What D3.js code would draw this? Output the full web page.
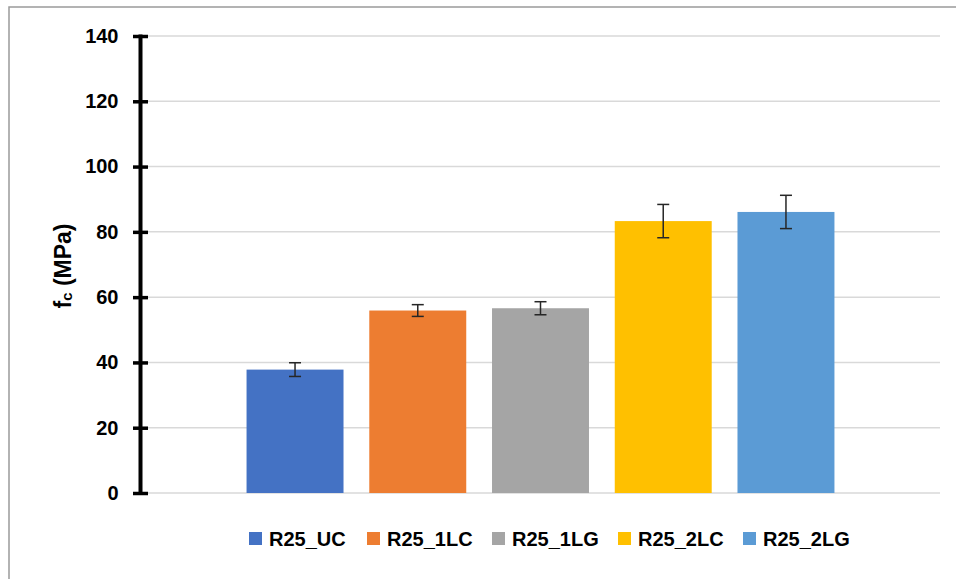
<!DOCTYPE html>
<html>
<head>
<meta charset="utf-8">
<script src="https://cdn.jsdelivr.net/npm/d3@7"></script>
<style>
  html, body { margin: 0; padding: 0; background: #fff; }
  svg { display: block; }
  text { font-family: "Liberation Sans", Arial, sans-serif; font-weight: bold; fill: #000; }
</style>
</head>
<body>
<svg id="chart" width="956" height="579"></svg>
<script>
// Compressive strength per specimen group
const categories = ["R25_UC", "R25_1LC", "R25_1LG", "R25_2LC", "R25_2LG"];
const meanValues = [37.8, 55.9, 56.6, 83.3, 86.1];
const errorValues = [2.1, 1.8, 2.0, 5.1, 5.1];
const barColors = ["#4472C4", "#ED7D31", "#A5A5A5", "#FFC000", "#5B9BD5"];
const yTicks = [0, 20, 40, 60, 80, 100, 120, 140];

const svg = d3.select("#chart");
const W = 956, H = 579;

// outer frame
svg.append("rect")
  .attr("x", 9).attr("y", 7).attr("width", W + 10).attr("height", H + 10)
  .attr("fill", "#fff").attr("stroke", "#9a9a9a").attr("stroke-width", 1.5);

const plot = { left: 141, right: 940, top: 36, bottom: 493 };

const x = d3.scaleBand()
  .domain(categories)
  .range([plot.left, plot.right])
  .paddingInner(0.21)
  .paddingOuter(0.86);

const y = d3.scaleLinear().domain([0, 140]).range([plot.bottom, plot.top]);

// gridlines
svg.append("g").selectAll("line")
  .data(yTicks)
  .join("line")
  .attr("x1", plot.left + 7).attr("x2", plot.right)
  .attr("y1", d => y(d)).attr("y2", d => y(d))
  .attr("stroke", "#d9d9d9").attr("stroke-width", 1.5);

// bars
svg.append("g").selectAll("rect")
  .data(categories)
  .join("rect")
  .attr("x", d => x(d))
  .attr("width", x.bandwidth())
  .attr("y", (d, i) => y(meanValues[i]))
  .attr("height", (d, i) => y(0) - y(meanValues[i]))
  .attr("fill", (d, i) => barColors[i]);

// error bars
const eb = svg.append("g").attr("stroke", "#262626").attr("stroke-width", 1.5);
categories.forEach((c, i) => {
  const cx = x(c) + x.bandwidth() / 2;
  const hi = y(meanValues[i] + errorValues[i]);
  const lo = y(meanValues[i] - errorValues[i]);
  eb.append("line").attr("x1", cx).attr("x2", cx).attr("y1", hi).attr("y2", lo);
  eb.append("line").attr("x1", cx - 6).attr("x2", cx + 6).attr("y1", hi).attr("y2", hi);
  eb.append("line").attr("x1", cx - 6).attr("x2", cx + 6).attr("y1", lo).attr("y2", lo);
});

// y axis with cross ticks
const yAxis = d3.axisLeft(y).tickValues(yTicks).tickSize(0).tickPadding(22);
const gy = svg.append("g").attr("transform", `translate(${plot.left - 0.5},0)`).call(yAxis);
gy.select(".domain").remove();
gy.selectAll("text").attr("font-size", 20).attr("font-family", "Liberation Sans, Arial, sans-serif")
  .attr("font-weight", "bold").attr("fill", "#000");
gy.append("line")
  .attr("x1", 0).attr("x2", 0)
  .attr("y1", y(140) - 1.5).attr("y2", y(0) + 1.5)
  .attr("stroke", "#000").attr("stroke-width", 4);
gy.selectAll(".tick").append("line")
  .attr("x1", -7.5).attr("x2", 7.5)
  .attr("y1", 0).attr("y2", 0)
  .attr("stroke", "#000").attr("stroke-width", 3.5);

// y axis title: f_c (MPa)
const title = svg.append("text")
  .attr("transform", "translate(63,266) rotate(-90)")
  .attr("text-anchor", "middle")
  .attr("dominant-baseline", "central")
  .attr("font-size", 23);
title.append("tspan").text("f");
title.append("tspan").attr("font-size", 15).attr("dy", 3).text("c");
title.append("tspan").attr("dy", -3).text(" (MPa)");

// legend
const legendX = [249, 367, 492, 618, 743];
const lg = svg.append("g");
categories.forEach((c, i) => {
  lg.append("rect")
    .attr("x", legendX[i]).attr("y", 532)
    .attr("width", 13).attr("height", 13)
    .attr("fill", barColors[i]);
  lg.append("text")
    .attr("x", legendX[i] + 20).attr("y", 546)
    .attr("font-size", 20)
    .text(c);
});
</script>
</body>
</html>
